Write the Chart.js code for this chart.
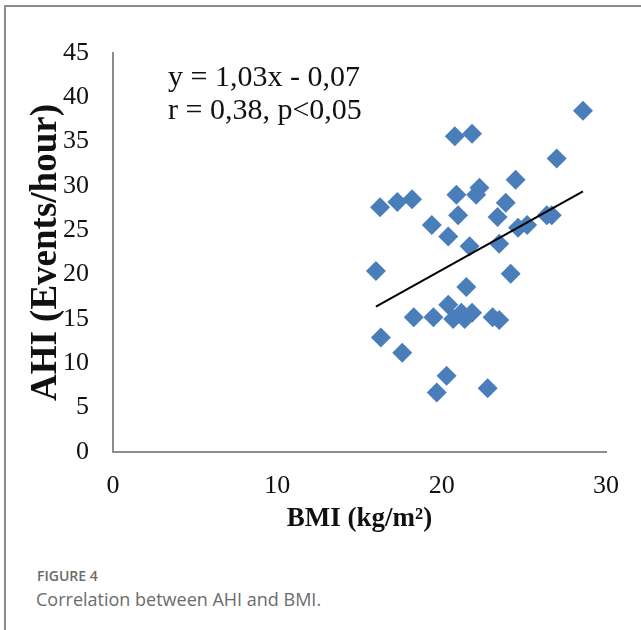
<!DOCTYPE html>
<html>
<head>
<meta charset="utf-8">
<script src="https://cdn.jsdelivr.net/npm/chart.js@4/dist/chart.umd.min.js"></script>
<style>
  html, body { margin: 0; padding: 0; background: #ffffff; }
  body { width: 641px; height: 630px; position: relative; overflow: hidden; }
  #frame { position: absolute; left: 4px; top: 5px; width: 700px; height: 700px;
           border-left: 2px solid #8c8c8c; border-top: 2px solid #8c8c8c; }
  #c { position: absolute; left: 0; top: 0; }
  #figlabel { position: absolute; left: 37px; top: 566px; font-family: "Open Sans", sans-serif;
              font-size: 14px; font-weight: 600; color: #6b6b6b; letter-spacing: 0px; }
  #figcap { position: absolute; left: 36px; top: 587px; font-family: "Open Sans", sans-serif;
            font-size: 18px; color: #6b6b6b; }
</style>
</head>
<body>
<div id="frame"></div>
<canvas id="c" width="641" height="540"></canvas>
<div id="figlabel">FIGURE 4</div>
<div id="figcap">Correlation between AHI and BMI.</div>
<script>
const bmi = [16.0, 16.25, 16.3, 17.3, 17.6, 18.2, 18.3, 19.4, 19.5, 19.7, 20.3, 20.4, 20.4, 20.7, 20.8, 20.9, 21.0, 21.2, 21.4, 21.5, 21.7, 21.85, 21.85, 22.1, 22.3, 22.8, 23.1, 23.4, 23.5, 23.5, 23.9, 24.2, 24.5, 24.65, 25.2, 26.4, 26.7, 27.0, 28.6];
const ahi = [20.4, 27.6, 12.9, 28.2, 11.2, 28.5, 15.2, 25.6, 15.2, 6.7, 8.6, 24.3, 16.6, 15.0, 35.6, 29.0, 26.7, 15.7, 15.0, 18.6, 23.2, 15.7, 35.9, 29.0, 29.8, 7.2, 15.2, 26.5, 14.9, 23.5, 28.1, 20.1, 30.7, 25.3, 25.6, 26.7, 26.7, 33.1, 38.5];
const trendX = [16.0, 28.6];
const trendY = [16.4, 29.4];
const annotationLines = ["y = 1,03x - 0,07", "r = 0,38, p<0,05"];
const xTitle = "BMI (kg/m²)";
const yTitle = "AHI (Events/hour)";

const scatterPts = bmi.map((x, i) => ({ x: x, y: ahi[i] }));
const trendPts = trendX.map((x, i) => ({ x: x, y: trendY[i] }));

const annotationPlugin = {
  id: 'eqText',
  afterDraw(chart) {
    const ctx = chart.ctx;
    ctx.save();
    ctx.fillStyle = '#111';
    ctx.font = '30px "Liberation Serif", serif';
    ctx.textAlign = 'left';
    ctx.textBaseline = 'middle';
    ctx.fillText(annotationLines[0], 168, 78);
    ctx.fillText(annotationLines[1], 168, 111);
    ctx.restore();
  }
};

new Chart(document.getElementById('c'), {
  type: 'scatter',
  data: {
    datasets: [
      {
        type: 'line',
        data: trendPts,
        borderColor: '#000000',
        borderWidth: 2,
        pointRadius: 0,
        fill: false,
        tension: 0
      },
      {
        data: scatterPts,
        pointStyle: 'rectRot',
        pointRadius: 10,
        pointHoverRadius: 10,
        backgroundColor: '#4a7ebb',
        borderWidth: 0
      }
    ]
  },
  options: {
    responsive: false,
    animation: false,
    layout: { padding: { top: 53, right: 35, left: 0, bottom: 0 } },
    plugins: { legend: { display: false }, tooltip: { enabled: false } },
    scales: {
      x: {
        type: 'linear', min: 0, max: 30,
        afterFit: (s) => { s.height = 88; },
        grid: { display: false, drawTicks: false },
        border: { display: true, color: '#8c8c8c', width: 2 },
        ticks: { stepSize: 10, padding: 19, color: '#111',
                 font: { family: '"Liberation Serif", serif', size: 26 } },
        title: { display: true, text: xTitle, color: '#111', padding: { top: 0, bottom: 5 },
                 font: { family: '"Liberation Serif", serif', size: 27, weight: 'bold' } }
      },
      y: {
        type: 'linear', min: 0, max: 45,
        afterFit: (s) => { s.width = 113; },
        grid: { display: false, drawTicks: false },
        border: { display: true, color: '#8c8c8c', width: 2 },
        ticks: { stepSize: 5, padding: 24, color: '#111',
                 font: { family: '"Liberation Serif", serif', size: 26 } },
        title: { display: true, text: yTitle, color: '#111', padding: { top: 24, bottom: 0 },
                 font: { family: '"Liberation Serif", serif', size: 37, weight: 'bold' } }
      }
    }
  },
  plugins: [annotationPlugin]
});
</script>
</body>
</html>
